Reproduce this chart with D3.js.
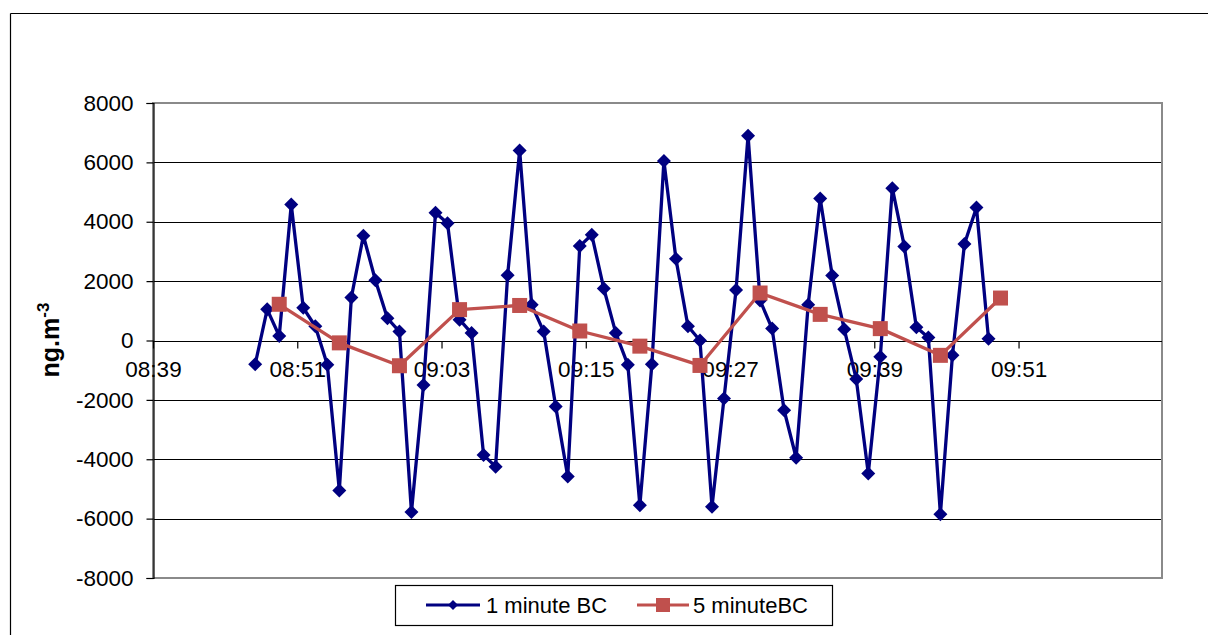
<!DOCTYPE html>
<html>
<head>
<meta charset="utf-8">
<script src="https://cdn.jsdelivr.net/npm/d3@7"></script>
<style>
  html, body { margin: 0; padding: 0; background: #fff; }
  svg { display: block; font-family: "Liberation Sans", Arial, sans-serif; }
</style>
</head>
<body>
<svg id="chart" width="1208" height="635"></svg>
<script>
// ---- data ----
const oneMinTimes = [
  "08:47:30","08:48:30","08:49:30","08:50:30","08:51:30","08:52:30","08:53:30","08:54:30",
  "08:55:30","08:56:30","08:57:30","08:58:30","08:59:30","09:00:30","09:01:30","09:02:30",
  "09:03:30","09:04:30","09:05:30","09:06:30","09:07:30","09:08:30","09:09:30","09:10:30",
  "09:11:30","09:12:30","09:13:30","09:14:30","09:15:30","09:16:30","09:17:30","09:18:30",
  "09:19:30","09:20:30","09:21:30","09:22:30","09:23:30","09:24:30","09:25:30","09:26:30",
  "09:27:30","09:28:30","09:29:30","09:30:30","09:31:30","09:32:30","09:33:30","09:34:30",
  "09:35:30","09:36:30","09:37:30","09:38:30","09:39:30","09:40:30","09:41:30","09:42:30",
  "09:43:30","09:44:30","09:45:30","09:46:30","09:47:30","09:48:30"
];
const oneMinBC = [
  -800, 1050, 150, 4580, 1100, 480, -820, -5050, 1450, 3530, 2030, 750, 300, -5780, -1500, 4300,
  3950, 700, 250, -3860, -4250, 2200, 6400, 1200, 300, -2220, -4580, 3180, 3560, 1750, 250, -820,
  -5550, -800, 6050, 2750, 480, 0, -5600, -1950, 1700, 6900, 1350, 400, -2350, -3950, 1200, 4780,
  2190, 380, -1300, -4480, -550, 5130, 3170, 450, 100, -5850, -500, 3250, 4480, 60
];
const fiveMinTimes = [
  "08:49:30","08:54:30","08:59:30","09:04:30","09:09:30","09:14:30","09:19:30",
  "09:24:30","09:29:30","09:34:30","09:39:30","09:44:30","09:49:30"
];
const fiveMinBC = [1220, -80, -850, 1040, 1180, 320, -190, -840, 1600, 880, 400, -500, 1430];
const xTickLabels = ["08:39","08:51","09:03","09:15","09:27","09:39","09:51"];
const yTicks = [-8000, -6000, -4000, -2000, 0, 2000, 4000, 6000, 8000];
const seriesNames = ["1 minute BC", "5 minuteBC"];
const xStart = "08:39", xEnd = "10:02:56";

// ---- helpers ----
function toMin(s) {
  const p = s.split(":").map(Number);
  return p[0] * 60 + p[1] + (p[2] || 0) / 60;
}

const svg = d3.select("#chart");
const plot = { left: 153, top: 103, right: 1162, bottom: 578 };

const x = d3.scaleLinear().domain([toMin(xStart), toMin(xEnd)]).range([plot.left, plot.right]);
const y = d3.scaleLinear().domain([-8000, 8000]).range([plot.bottom, plot.top]);

// outer frame
svg.append("line").attr("x1", 10.5).attr("x2", 1208).attr("y1", 13.5).attr("y2", 13.5)
  .attr("stroke", "#000").attr("stroke-width", 1.2);
svg.append("line").attr("x1", 10.5).attr("x2", 10.5).attr("y1", 13.5).attr("y2", 635)
  .attr("stroke", "#000").attr("stroke-width", 1.2);

// gridlines
svg.append("g").selectAll("line")
  .data(yTicks.filter(v => v !== 8000 && v !== -8000))
  .join("line")
  .attr("x1", plot.left).attr("x2", plot.right)
  .attr("y1", d => Math.round(y(d)) + 0.5).attr("y2", d => Math.round(y(d)) + 0.5)
  .attr("stroke", "#000").attr("stroke-width", 1);

// plot border (grey)
svg.append("rect")
  .attr("x", plot.left).attr("y", plot.top)
  .attr("width", plot.right - plot.left).attr("height", plot.bottom - plot.top)
  .attr("fill", "none").attr("stroke", "#8a8a8a").attr("stroke-width", 2);

// y axis
const yAxis = d3.axisLeft(y).tickValues(yTicks).tickSize(7).tickPadding(13)
  .tickFormat(d => String(d));
const gy = svg.append("g").attr("transform", `translate(${plot.left + 0.5},0)`).call(yAxis);
gy.select(".domain").attr("stroke", "#000").attr("stroke-width", 1.2);
gy.selectAll(".tick line").attr("stroke", "#000").attr("stroke-width", 1.2);
gy.selectAll(".tick text").attr("font-size", 22.5).attr("fill", "#000")
  .attr("font-family", "Liberation Sans, Arial, sans-serif");

// x axis at y = 0
const xAxis = d3.axisBottom(x).tickValues(xTickLabels.map(toMin)).tickSize(7).tickPadding(13)
  .tickFormat((d, i) => xTickLabels[i]);
const gx = svg.append("g").attr("transform", `translate(0,${Math.round(y(0)) + 0.5})`).call(xAxis);
gx.select(".domain").remove();
gx.selectAll(".tick line").attr("stroke", "#000").attr("stroke-width", 1.2);
gx.selectAll(".tick text").attr("font-size", 22.5).attr("fill", "#000")
  .attr("font-family", "Liberation Sans, Arial, sans-serif");
svg.append("line")
  .attr("x1", plot.left).attr("x2", plot.right)
  .attr("y1", Math.round(y(0)) + 0.5).attr("y2", Math.round(y(0)) + 0.5)
  .attr("stroke", "#000").attr("stroke-width", 1.2);

// y title
const yt = svg.append("text")
  .attr("transform", `translate(59,340) rotate(-90)`)
  .attr("text-anchor", "middle")
  .attr("font-size", 25).attr("font-weight", "bold").attr("fill", "#000");
yt.append("tspan").text("ng.m");
yt.append("tspan").attr("dy", -10).attr("font-size", 17).text("-3");

// series
const blue = "#000080", red = "#C0504D";
const d1 = oneMinTimes.map((t, i) => ({ x: toMin(t), y: oneMinBC[i] }));
const d5 = fiveMinTimes.map((t, i) => ({ x: toMin(t), y: fiveMinBC[i] }));
const line = d3.line().x(d => x(d.x)).y(d => y(d.y));

svg.append("path").datum(d1).attr("d", line)
  .attr("fill", "none").attr("stroke", blue).attr("stroke-width", 3.3).attr("stroke-linejoin", "round");
const diamond = d3.symbol().type(d3.symbolSquare).size(98);
svg.append("g").selectAll("path").data(d1).join("path")
  .attr("d", diamond)
  .attr("transform", d => `translate(${x(d.x)},${y(d.y)}) rotate(45)`)
  .attr("fill", blue);

svg.append("path").datum(d5).attr("d", line)
  .attr("fill", "none").attr("stroke", red).attr("stroke-width", 3.3).attr("stroke-linejoin", "round");
svg.append("g").selectAll("rect").data(d5).join("rect")
  .attr("x", d => x(d.x) - 7.5).attr("y", d => y(d.y) - 7.5)
  .attr("width", 15).attr("height", 15)
  .attr("fill", red);

// legend
const lg = svg.append("g");
lg.append("rect").attr("x", 395.5).attr("y", 585.5).attr("width", 437).attr("height", 40)
  .attr("fill", "#fff").attr("stroke", "#000").attr("stroke-width", 1.2);
const items = [
  { x1: 426, x2: 480, tx: 486, color: blue, shape: "diamond" },
  { x1: 637, x2: 689, tx: 693, color: red, shape: "square" }
];
items.forEach((it, i) => {
  lg.append("line").attr("x1", it.x1).attr("x2", it.x2).attr("y1", 605).attr("y2", 605)
    .attr("stroke", it.color).attr("stroke-width", 3);
  const cx = (it.x1 + it.x2) / 2;
  if (it.shape === "diamond") {
    lg.append("path").attr("d", d3.symbol().type(d3.symbolSquare).size(50)())
      .attr("transform", `translate(${cx},605) rotate(45)`).attr("fill", it.color);
  } else {
    lg.append("rect").attr("x", cx - 7).attr("y", 598).attr("width", 14).attr("height", 14)
      .attr("fill", it.color);
  }
  lg.append("text").attr("x", it.tx).attr("y", 613).attr("font-size", 22).attr("fill", "#000")
    .text(seriesNames[i]);
});
</script>
</body>
</html>
